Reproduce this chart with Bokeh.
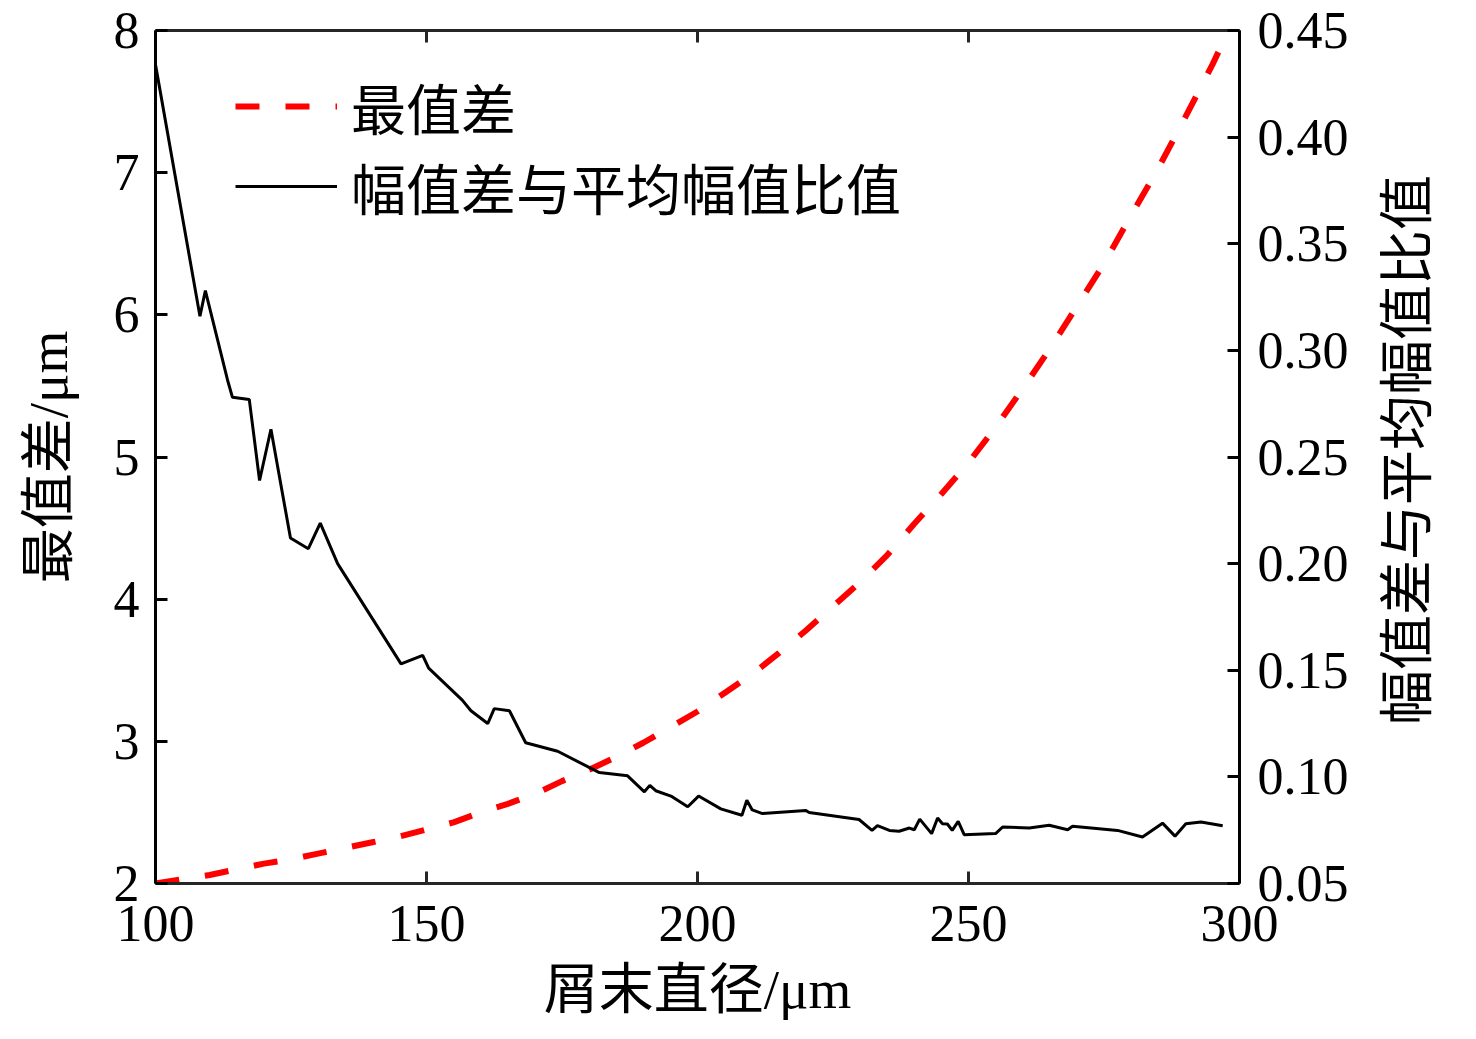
import math
from bokeh.plotting import figure
from bokeh.layouts import row
from bokeh.models import Range1d, LinearAxis, FixedTicker, NumeralTickFormatter, Legend, LegendItem, Label
from bokeh.embed import file_html
from bokeh.resources import INLINE

# ---- data ----
red_x = [100, 105, 110, 115, 120, 125, 130, 135, 140, 145, 150, 155, 160, 165, 170, 175, 180,
         185, 190, 195, 200, 205, 210, 215, 220, 225, 230, 235, 240, 245, 250, 255, 260, 265,
         270, 275, 280, 285, 290, 295, 297]
red_y = [2.00, 2.03, 2.06, 2.10, 2.14, 2.17, 2.21, 2.25, 2.29, 2.33, 2.38, 2.43, 2.50, 2.56, 2.63,
         2.72, 2.80, 2.89, 2.99, 3.10, 3.21, 3.34, 3.47, 3.62, 3.78, 3.95, 4.12, 4.31, 4.53, 4.74,
         4.96, 5.21, 5.48, 5.76, 6.06, 6.36, 6.70, 7.03, 7.39, 7.76, 7.92]

blk_x = [100, 108.2, 109.2, 113.3, 114.2, 117.3, 119.2, 121.3, 124.9, 128.2, 130.4, 133.6, 145.3,
         149.3, 150.4, 156.6, 158.2, 161.3, 162.5, 165.3, 168.3, 174.2, 181.9, 187.1, 190.2, 191.2,
         192.3, 195.1, 198.2, 200.2, 204.3, 208.2, 209.1, 210.1, 212.0, 220.0, 220.6, 229.8, 232.2,
         233.2, 235.4, 237.2, 239.1, 240.0, 241.0, 243.2, 244.3, 245.2, 246.1, 247.0, 248.1, 249.2,
         255.0, 256.3, 261.2, 264.9, 268.3, 269.2, 277.5, 282.1, 285.8, 288.1, 290.1, 292.9, 296.9]
blk_y = [0.434, 0.316, 0.328, 0.286, 0.278, 0.277, 0.239, 0.263, 0.212, 0.207, 0.219, 0.200, 0.153,
         0.157, 0.151, 0.136, 0.131, 0.125, 0.132, 0.131, 0.116, 0.112, 0.102, 0.1005, 0.093, 0.096,
         0.0935, 0.091, 0.086, 0.091, 0.085, 0.082, 0.089, 0.0845, 0.0828, 0.0842, 0.0833, 0.080,
         0.0749, 0.0771, 0.0749, 0.0745, 0.0760, 0.0752, 0.0802, 0.0734, 0.0807, 0.0780, 0.0779,
         0.0749, 0.0791, 0.0729, 0.0734, 0.0765, 0.0760, 0.0773, 0.0752, 0.0768, 0.0749, 0.0718,
         0.0783, 0.0722, 0.0780, 0.0788, 0.0771]

x_ticks = [100, 150, 200, 250, 300]
left_ticks = [2, 3, 4, 5, 6, 7, 8]
right_ticks = [0.05, 0.10, 0.15, 0.20, 0.25, 0.30, 0.35, 0.40, 0.45]

x_label = "屑末直径/μm"
left_label = "最值差/μm"
right_label = "幅值差与平均幅值比值"
name_red = "最值差"
name_blk = "幅值差与平均幅值比值"

FONT = "'Liberation Serif', 'Noto Sans CJK SC'"
TICK_SIZE = "52px"
LABEL_SIZE = "55px"

H = 1023
W_MAIN = 1364
W_SIDE = 96

p = figure(width=W_MAIN, height=H, output_backend="svg", toolbar_location=None,
           x_range=Range1d(100, 300), y_range=Range1d(2, 8),
           min_border_left=155, min_border_right=125, min_border_top=30, min_border_bottom=140)
p.extra_y_ranges = {"right": Range1d(0.05, 0.45)}
p.grid.visible = False
p.outline_line_color = None
p.background_fill_color = "white"

r_red = p.line(red_x, red_y, line_color="#ff0000", line_width=6, line_dash="24 26")
r_blk = p.line(blk_x, blk_y, line_color="black", line_width=3, y_range_name="right")

def style(ax, color="black"):
    ax.axis_line_color = color
    ax.axis_line_width = 3
    ax.major_tick_line_color = color
    ax.major_tick_line_width = 3
    ax.major_tick_in = 12
    ax.major_tick_out = 0
    ax.minor_tick_line_color = None
    ax.major_label_text_font = FONT
    ax.major_label_text_font_size = TICK_SIZE
    ax.major_label_text_color = "black"
    ax.axis_label_text_font = FONT
    ax.axis_label_text_font_size = LABEL_SIZE
    ax.axis_label_text_font_style = "normal"
    ax.axis_label_text_color = "black"

xa = p.xaxis[0]
style(xa, "#262626")
xa.ticker = FixedTicker(ticks=x_ticks)
xa.major_label_standoff = 22
xa.axis_label = x_label
xa.axis_label_standoff = 15

ya = p.yaxis[0]
style(ya)
ya.ticker = FixedTicker(ticks=left_ticks)
ya.axis_label = left_label
ya.major_label_standoff = 16
ya.axis_label_standoff = 32

ra = LinearAxis(y_range_name="right", ticker=FixedTicker(ticks=right_ticks),
                formatter=NumeralTickFormatter(format="0.00"))
style(ra)
ra.major_label_standoff = 18
p.add_layout(ra, "right")

ta = LinearAxis(ticker=FixedTicker(ticks=x_ticks))
style(ta, "#262626")
ta.major_label_overrides = {t: "" for t in x_ticks}
ta.major_label_standoff = 0
p.add_layout(ta, "above")

legend = Legend(items=[LegendItem(label=name_red, renderers=[r_red]),
                       LegendItem(label=name_blk, renderers=[r_blk])],
                location=(80, 657), margin=0, padding=0, spacing=0,
                glyph_width=102, glyph_height=40, label_standoff=14,
                label_text_font=FONT, label_text_font_size=LABEL_SIZE, label_text_color="black",
                border_line_color=None, background_fill_alpha=0)
p.add_layout(legend)

# side panel holding the right-hand axis title (reads bottom to top)
side = figure(width=W_SIDE, height=H, output_backend="svg", toolbar_location=None,
              x_range=Range1d(0, W_SIDE), y_range=Range1d(0, H),
              x_axis_location=None, y_axis_location=None, min_border=0)
side.grid.visible = False
side.outline_line_color = None
side.add_layout(Label(x=43, y=520, text=right_label, angle=math.pi / 2,
                      text_font=FONT, text_font_size=LABEL_SIZE,
                      text_align="center", text_baseline="middle", text_color="black"))

layout = row(p, side, spacing=0)
open("out.html", "w").write(file_html(layout, INLINE))
